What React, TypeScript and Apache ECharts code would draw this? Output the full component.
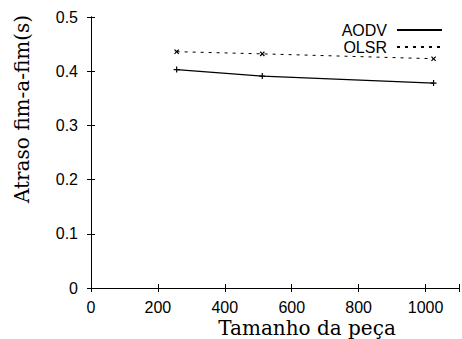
import React, { useEffect, useRef } from "react";
import * as echarts from "echarts";

const pieceSizes = [256, 512, 1024];
const aodvDelay = [0.403, 0.391, 0.378];
const olsrDelay = [0.436, 0.432, 0.423];
const seriesNames = ["AODV", "OLSR"];
const xTitle = "Tamanho da peça";
const yTitle = "Atraso fim-a-fim(s)";

const plusSymbol = "path://M4,0h2v4h4v2h-4v4h-2v-4h-4v-2h4z";

export default function App() {
  const ref = useRef<HTMLDivElement>(null);
  useEffect(() => {
    if (!ref.current) return;
    const chart = echarts.init(ref.current, null, { renderer: "svg" });
    const tickFont = { fontFamily: "Liberation Sans", fontSize: 16, color: "#000" };
    const baseAxisLine = { show: true, lineStyle: { color: "#000", width: 1 } };
    const innerTick = { show: true, inside: true, length: 4, lineStyle: { color: "#000" } };
    chart.setOption({
      animation: false,
      backgroundColor: "#fff",
      grid: { left: 91, top: 17, right: -1, bottom: 51, containLabel: false },
      xAxis: [
        {
          type: "value",
          min: 0,
          max: 1100,
          interval: 200,
          position: "bottom",
          axisLine: baseAxisLine,
          axisTick: innerTick,
          splitLine: { show: false },
          axisLabel: {
            ...tickFont,
            margin: 11,
            formatter: (v: number) => (v % 200 === 0 ? String(v) : ""),
          },
        },
        {
          type: "value",
          min: 0,
          max: 1100,
          interval: 200,
          position: "top",
          axisLine: baseAxisLine,
          axisTick: innerTick,
          splitLine: { show: false },
          axisLabel: { show: false },
        },
      ],
      yAxis: [
        {
          type: "value",
          min: 0,
          max: 0.5,
          interval: 0.1,
          position: "left",
          axisLine: baseAxisLine,
          axisTick: innerTick,
          splitLine: { show: false },
          axisLabel: { ...tickFont, margin: 13 },
        },
        {
          type: "value",
          min: 0,
          max: 0.5,
          interval: 0.1,
          position: "right",
          axisLine: baseAxisLine,
          axisTick: innerTick,
          splitLine: { show: false },
          axisLabel: { show: false },
        },
      ],
      legend: {
        show: true,
        orient: "vertical",
        right: 19,
        top: 22,
        align: "right",
        itemWidth: 45,
        itemHeight: 14,
        itemGap: 1,
        padding: 0,
        itemStyle: { opacity: 0 },
        textStyle: { fontFamily: "Liberation Sans", fontSize: 16, color: "#000", padding: [0, 5, 0, 0] },
        data: seriesNames,
      },
      series: [
        {
          name: seriesNames[0],
          type: "line",
          data: pieceSizes.map((x, i) => [x, aodvDelay[i]]),
          symbol: plusSymbol,
          symbolSize: 6,
          lineStyle: { color: "#000", width: 1.2, type: "solid" },
          itemStyle: { color: "#000" },
        },
        {
          name: seriesNames[1],
          type: "line",
          data: pieceSizes.map((x, i) => [x, olsrDelay[i]]),
          symbol: plusSymbol,
          symbolRotate: 45,
          symbolSize: 6,
          lineStyle: { color: "#000", width: 1, type: [3, 5] },
          itemStyle: { color: "#000" },
        },
      ],
      graphic: [
        {
          type: "text",
          x: 307,
          y: 328,
          style: {
            text: xTitle,
            font: "20px 'DejaVu Serif'",
            fill: "#000",
            textAlign: "center",
            textVerticalAlign: "middle",
          },
        },
        {
          type: "text",
          x: 22,
          y: 109,
          rotation: Math.PI / 2,
          style: {
            text: yTitle,
            font: "20px 'DejaVu Serif'",
            fill: "#000",
            textAlign: "center",
            textVerticalAlign: "middle",
          },
        },
      ],
    });
    return () => chart.dispose();
  }, []);
  return <div ref={ref} style={{ width: 462, height: 339, position: "fixed", left: 0, top: 0 }} />;
}
